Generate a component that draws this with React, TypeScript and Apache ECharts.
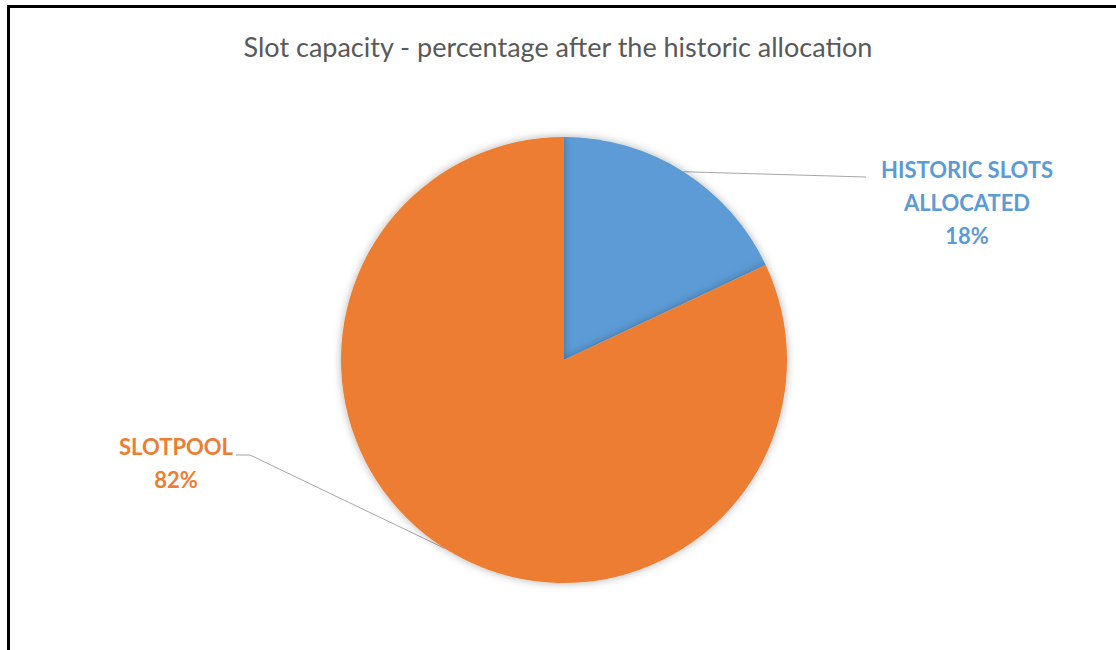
import React, { useEffect, useRef } from "react";
import * as echarts from "echarts";

// Slice data
const categories = ["HISTORIC SLOTS\nALLOCATED", "SLOTPOOL"];
const values = [18, 82];
const colors = ["#5B9BD5", "#ED7D31"];
const titleText = "Slot capacity - percentage after the historic allocation";

export default function App() {
  const ref = useRef<HTMLDivElement>(null);

  useEffect(() => {
    if (!ref.current) return;
    const chart = echarts.init(ref.current, undefined, { renderer: "svg" });

    const data = categories.map((name, i) => ({
      name,
      value: values[i],
      itemStyle: { color: colors[i] },
      label: { color: colors[i] },
    }));

    chart.setOption({
      animation: false,
      backgroundColor: "#ffffff",
      title: {
        text: titleText,
        left: "center",
        top: 28,
        textStyle: {
          fontFamily: "Lato",
          fontSize: 27,
          fontWeight: "normal",
          color: "#595959",
        },
      },
      graphic: [
        {
          type: "line",
          shape: { x1: 8.5, y1: 5, x2: 8.5, y2: 650 },
          style: { stroke: "#000", lineWidth: 3 },
        },
        {
          type: "line",
          shape: { x1: 7, y1: 6.5, x2: 1116, y2: 6.5 },
          style: { stroke: "#000", lineWidth: 3 },
        },
      ],
      series: [
        {
          type: "pie",
          center: [564, 360],
          radius: 223,
          startAngle: 90,
          clockwise: true,
          data,
          itemStyle: {
            shadowBlur: 8,
            shadowColor: "rgba(0,0,0,0.3)",
          },
          emphasis: { disabled: true },
          label: {
            show: true,
            position: "outside",
            fontFamily: "Lato",
            fontWeight: "bold",
            fontSize: 22,
            lineHeight: 33,
            align: "center",
            formatter: (p: any) => `${p.name}\n${p.value}%`,
          },
          labelLine: {
            show: true,
            length: 20,
            length2: 20,
            lineStyle: { color: "#A6A6A6", width: 1 },
          },
          labelLayout: (params: any) => {
            const start = params.labelLinePoints
              ? params.labelLinePoints[0]
              : [0, 0];
            if (params.dataIndex === 0) {
              const end = [866, 177];
              const mid = [(start[0] + end[0]) / 2, (start[1] + end[1]) / 2];
              return {
                x: 967,
                y: 153,
                align: "center",
                verticalAlign: "top",
                labelLinePoints: [start, mid, end],
              };
            }
            return {
              x: 176,
              y: 430,
              align: "center",
              verticalAlign: "top",
              labelLinePoints: [start, [250, 455], [236, 455]],
            };
          },
        },
      ],
    });

    return () => chart.dispose();
  }, []);

  return (
    <div
      ref={ref}
      style={{ position: "fixed", left: 0, top: 0, width: 1116, height: 650 }}
    />
  );
}
